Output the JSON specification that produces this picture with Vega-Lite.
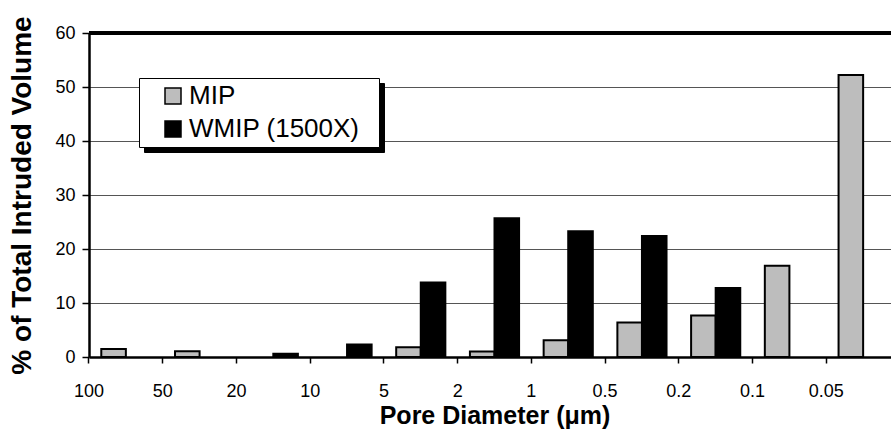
{
  "$schema": "https://vega.github.io/schema/vega-lite/v6.json",
  "autosize": {"type": "none"},
  "width": 802,
  "height": 324,
  "padding": {"left": 89, "top": 33, "right": 0, "bottom": 73},
  "background": "white",
  "config": {"font": "Liberation Sans", "view": {"stroke": null}},
  "data": {
    "values": [
      {"diameter": "100", "series": "MIP", "volume": 1.5},
      {"diameter": "50", "series": "MIP", "volume": 1.05},
      {"diameter": "20", "series": "WMIP (1500X)", "volume": 0.6},
      {"diameter": "10", "series": "WMIP (1500X)", "volume": 2.3},
      {"diameter": "5", "series": "MIP", "volume": 1.8},
      {"diameter": "5", "series": "WMIP (1500X)", "volume": 13.8},
      {"diameter": "2", "series": "MIP", "volume": 1.0},
      {"diameter": "2", "series": "WMIP (1500X)", "volume": 25.7},
      {"diameter": "1", "series": "MIP", "volume": 3.1},
      {"diameter": "1", "series": "WMIP (1500X)", "volume": 23.3},
      {"diameter": "0.5", "series": "MIP", "volume": 6.4},
      {"diameter": "0.5", "series": "WMIP (1500X)", "volume": 22.4},
      {"diameter": "0.2", "series": "MIP", "volume": 7.7},
      {"diameter": "0.2", "series": "WMIP (1500X)", "volume": 12.8},
      {"diameter": "0.1", "series": "MIP", "volume": 16.9},
      {"diameter": "0.05", "series": "MIP", "volume": 52.2}
    ]
  },
  "layer": [
    {
      "mark": {"type": "point", "size": 0, "strokeWidth": 0, "filled": true},
      "encoding": {
        "shape": {
          "field": "series",
          "type": "nominal",
          "scale": {"range": ["square", "square"]},
          "legend": {
            "title": null,
            "orient": "none",
            "direction": "vertical",
            "legendX": 55,
            "legendY": 50,
            "fillColor": "black",
            "strokeColor": "black",
            "padding": 5,
            "symbolSize": 256,
            "symbolFillColor": "black",
            "symbolStrokeColor": "black",
            "symbolStrokeWidth": 1.5,
            "symbolOpacity": 1,
            "symbolOffset": 201,
            "labelFontSize": 26,
            "labelColor": "black",
            "labelOffset": 3,
            "labelLimit": 400,
            "labelExpr": "'\u200b'",
            "rowPadding": 7
          }
        }
      }
    },
    {
      "mark": {"type": "bar", "stroke": "black", "strokeWidth": 2},
      "encoding": {
        "x": {
          "field": "diameter",
          "type": "ordinal",
          "sort": null,
          "scale": {
            "domain": ["100", "50", "20", "10", "5", "2", "1", "0.5", "0.2", "0.1", "0.05"],
            "range": [0, 811],
            "paddingInner": 0,
            "paddingOuter": 0
          },
          "axis": {
            "title": "Pore Diameter (μm)",
            "titleFontSize": 25,
            "titleFontWeight": "bold",
            "titleColor": "black",
            "titleY": 66,
            "titleBaseline": "alphabetic",
            "labelAngle": 0,
            "labelFontSize": 18,
            "labelColor": "black",
            "labelPadding": 19,
            "labelOffset": -36.86,
            "tickSize": 6,
            "tickColor": "black",
            "tickWidth": 1.5,
            "bandPosition": 0,
            "domainColor": "black",
            "domainWidth": 2.5,
            "grid": false
          }
        },
        "xOffset": {
          "field": "series",
          "type": "nominal",
          "scale": {"domain": ["MIP", "WMIP (1500X)"], "paddingInner": 0, "paddingOuter": 0.5}
        },
        "y": {
          "field": "volume",
          "type": "quantitative",
          "scale": {"domain": [0, 60]},
          "axis": {
            "title": "% of Total Intruded Volume",
            "titleFontSize": 28,
            "titleFontWeight": "bold",
            "titleColor": "black",
            "titleAngle": -90,
            "titleX": -59,
            "titleY": 162,
            "titleAlign": "center",
            "titleBaseline": "alphabetic",
            "values": [0, 10, 20, 30, 40, 50, 60],
            "labelFontSize": 18,
            "labelColor": "black",
            "labelPadding": 7,
            "tickSize": 7,
            "tickColor": "black",
            "tickWidth": 1.5,
            "domainColor": "black",
            "domainWidth": 2.5,
            "grid": true,
            "gridColor": "#555555",
            "gridWidth": 1
          }
        },
        "color": {
          "field": "series",
          "type": "nominal",
          "scale": {"domain": ["MIP", "WMIP (1500X)"], "range": ["#bdbdbd", "#000000"]},
          "legend": {
            "title": null,
            "orient": "none",
            "direction": "vertical",
            "legendX": 50,
            "legendY": 45,
            "fillColor": "white",
            "strokeColor": "black",
            "padding": 5,
            "symbolType": "square",
            "symbolSize": 256,
            "symbolStrokeColor": "black",
            "symbolStrokeWidth": 1.5,
            "symbolOffset": 16,
            "labelFontSize": 26,
            "labelColor": "black",
            "labelOffset": 3,
            "labelLimit": 400,
            "labelExpr": "datum.label + '\u00a0\u00a0\u200b'",
            "rowPadding": 7
          }
        }
      }
    },
    {
      "mark": {"type": "rule", "color": "black", "strokeWidth": 2.5},
      "encoding": {"y": {"datum": 60}}
    }
  ]
}
